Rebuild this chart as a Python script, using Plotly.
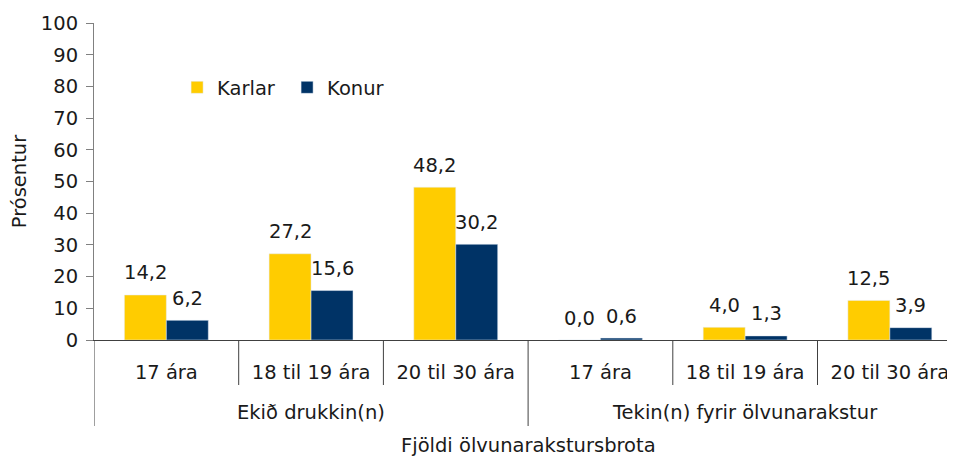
import plotly.graph_objects as go

groups = ["Ekið drukkin(n)", "Tekin(n) fyrir ölvunarakstur"]
ages = ["17 ára", "18 til 19 ára", "20 til 30 ára"]
karlar = [14.2, 27.2, 48.2, 0.0, 4.0, 12.5]
konur = [6.2, 15.6, 30.2, 0.6, 1.3, 3.9]
y_ticks = list(range(0, 101, 10))

FONT = "DejaVu Sans"
TXT = "#1a1a1a"
FS = 19.5
LINE_Y = "#808080"
LINE_X = "#404040"
PLOT_W, PLOT_H = 861, 317
CAT_W = 144.7  # pixel width of one category slot

def fmt(v):
    return f"{v:.1f}".replace(".", ",")

cats = [f"{g}|{a}" for g in groups for a in ages]
labels = [a for g in groups for a in ages]

fig = go.Figure()
fig.add_trace(go.Bar(x=cats, y=karlar, name="Karlar", marker_color="#FFCC00"))
fig.add_trace(go.Bar(x=cats, y=konur, name="Konur", marker_color="#003366"))

# data labels
bar_px = 0.29 * CAT_W
annotations = []
for vals, sh in ((karlar, -bar_px / 2), (konur, bar_px / 2)):
    for c, v in zip(cats, vals):
        annotations.append(dict(x=c, y=v, text=fmt(v), showarrow=False, xref="x", yref="y",
                                xshift=sh, yshift=22, yanchor="middle",
                                font=dict(size=FS, color=TXT, family=FONT)))

# group labels
n = len(ages)
for gi, g in enumerate(groups):
    annotations.append(dict(x=gi * n + (n - 1) / 2, y=-72 / PLOT_H, xref="x", yref="paper", text=g,
                            showarrow=False, yanchor="middle",
                            font=dict(size=FS, color=TXT, family=FONT)))
annotations.append(dict(text="Fjöldi ölvunarakstursbrota", xref="paper", yref="paper",
                        x=(n * CAT_W) / PLOT_W, y=-105 / PLOT_H, xanchor="center", yanchor="middle",
                        showarrow=False, font=dict(size=FS, color=TXT, family=FONT)))

# separators
shapes = []
for i in range(len(cats) + 1):
    is_group = i % n == 0
    shapes.append(dict(type="line", xref="x", yref="paper", x0=i - 0.5, x1=i - 0.5,
                       y0=0, y1=(-86 if is_group else -45) / PLOT_H,
                       line=dict(color=LINE_X, width=1)))

fig.update_layout(
    width=947, height=449,
    margin=dict(l=86, r=0, t=15, b=117, autoexpand=False),
    paper_bgcolor="white", plot_bgcolor="white",
    font=dict(family=FONT, size=FS, color=TXT),
    barmode="group", bargap=0.42, bargroupgap=0,
    showlegend=True,
    legend=dict(orientation="h", x=0.0965, y=0.796, xanchor="left", yanchor="middle",
                font=dict(size=FS), itemwidth=30, entrywidth=65,
                bgcolor="rgba(0,0,0,0)"),
    yaxis=dict(range=[0, 100], tickvals=y_ticks, showgrid=False, zeroline=False,
               showline=True, linecolor=LINE_Y, linewidth=1, automargin=False,
               ticks="outside", ticklen=7, tickcolor=LINE_Y, ticklabelstandoff=4,
               title=dict(text="Prósentur", font=dict(size=FS), standoff=12)),
    xaxis=dict(type="category", categoryorder="array", categoryarray=cats,
               tickvals=cats, ticktext=labels, range=[-0.5, -0.5 + PLOT_W / CAT_W],
               showgrid=False, showline=True, automargin=False,
               linecolor=LINE_X, linewidth=1, ticks="", ticklabelstandoff=15),
    annotations=annotations,
    shapes=shapes,
)

fig.write_html("out.html")
